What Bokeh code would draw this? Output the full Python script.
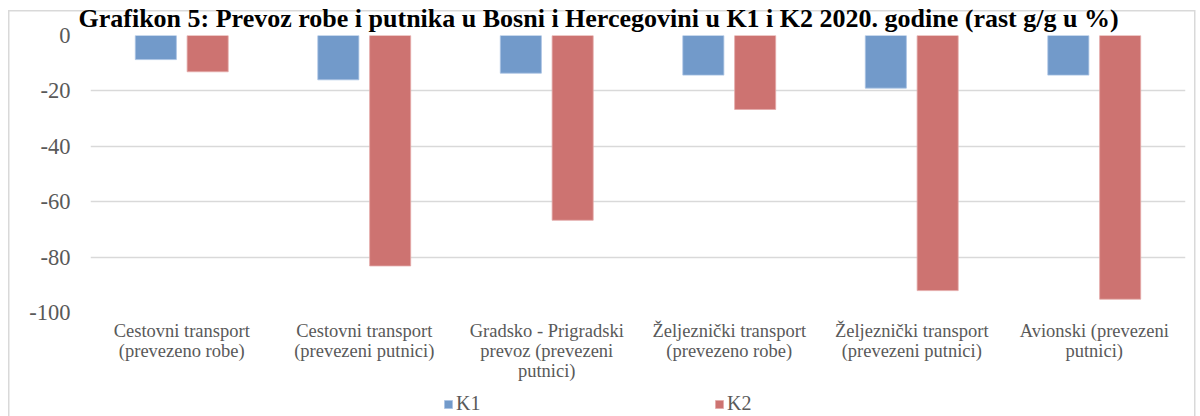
from bokeh.plotting import figure
from bokeh.layouts import column
from bokeh.models import FactorRange, ColumnDataSource, Legend, LegendItem, Title
from bokeh.transform import dodge
from bokeh.embed import file_html
from bokeh.resources import INLINE

categories = [
    "Cestovni transport\n(prevezeno robe)",
    "Cestovni transport\n(prevezeni putnici)",
    "Gradsko - Prigradski\nprevoz (prevezeni\nputnici)",
    "Željeznički transport\n(prevezeno robe)",
    "Željeznički transport\n(prevezeni putnici)",
    "Avionski (prevezeni\nputnici)",
]
k1 = [-8.7, -16.0, -13.6, -14.3, -19.0, -14.3]
k2 = [-13.1, -83.2, -66.7, -26.7, -92.1, -95.2]
series = ["K1", "K2"]
y_ticks = [0, -20, -40, -60, -80, -100]
title_text = "Grafikon 5: Prevoz robe i putnika u Bosni i Hercegovini u K1 i K2 2020. godine (rast g/g u %)"

SERIF = "Liberation Serif"
GRID = "#d9d9d9"
LABEL = "#595959"
BLUE, BLUE_EDGE = "#729ACA", "#a9c3e3"
RED, RED_EDGE = "#CD7371", "#e3a9a8"

src = ColumnDataSource(dict(cat=categories, k1=k1, k2=k2))

p = figure(
    x_range=FactorRange(*categories), y_range=(-100, 0),
    width=1200, height=383, output_backend="svg", toolbar_location=None,
    min_border_left=90, min_border_right=15, min_border_top=35, min_border_bottom=60,
)
p.outline_line_color = None
p.background_fill_color = "white"
p.border_fill_alpha = 0

r1 = p.vbar(x=dodge("cat", -0.142, range=p.x_range), top="k1", bottom=0, width=0.225,
            source=src, fill_color=BLUE, line_color=BLUE_EDGE, line_width=0.8)
r2 = p.vbar(x=dodge("cat", 0.142, range=p.x_range), top="k2", bottom=0, width=0.225,
            source=src, fill_color=RED, line_color=RED_EDGE, line_width=0.8)

p.xgrid.grid_line_color = None
p.ygrid.grid_line_color = GRID
p.ygrid.grid_line_width = 1.5
p.yaxis.ticker = y_ticks
p.yaxis.major_label_overrides = {t: str(t) for t in y_ticks}
p.yaxis.axis_line_color = None
p.yaxis.major_tick_line_color = None
p.yaxis.minor_tick_line_color = None
p.yaxis.major_tick_out = 0
p.yaxis.major_label_standoff = 20
p.yaxis.major_label_text_font = SERIF
p.yaxis.major_label_text_font_size = "22.5px"
p.yaxis.major_label_text_color = LABEL

p.xaxis.axis_line_color = None
p.xaxis.major_tick_line_color = None
p.xaxis.major_tick_out = 0
p.xaxis.major_label_standoff = 8
p.xaxis.major_label_text_font = SERIF
p.xaxis.major_label_text_font_size = "18.5px"
p.xaxis.major_label_text_color = LABEL
p.xaxis.major_label_text_line_height = 1.0

t = Title(text=title_text, align="left", offset=-12, text_font=SERIF, text_font_style="bold",
          text_font_size="26px", text_color="black", standoff=2, vertical_align="top")
p.add_layout(t, "above")

# legend strip below the chart (its bars lie outside its y range, only the legend shows)
lp = figure(width=1200, height=33, x_range=FactorRange(*categories), y_range=(1, 2),
            output_backend="svg", toolbar_location=None, min_border=0,
            x_axis_location=None, y_axis_location=None)
lp.outline_line_color = None
lp.grid.visible = False
lp.background_fill_alpha = 0
lp.border_fill_alpha = 0
d1 = lp.vbar(x=dodge("cat", -0.142, range=lp.x_range), top="k1", bottom=0, width=0.225,
             source=src, fill_color=BLUE, line_color=BLUE_EDGE, line_width=0.8)
d2 = lp.vbar(x=dodge("cat", 0.142, range=lp.x_range), top="k2", bottom=0, width=0.225,
             source=src, fill_color=RED, line_color=RED_EDGE, line_width=0.8)
legend = Legend(
    items=[LegendItem(label=series[0], renderers=[d1]), LegendItem(label=series[1], renderers=[d2])],
    orientation="horizontal", location=(353, 1),
    glyph_width=10, glyph_height=10, label_standoff=3, spacing=153, label_width=105,
    label_text_font=SERIF, label_text_font_size="20px", label_text_color=LABEL,
    border_line_color=None, background_fill_alpha=0, padding=0, margin=0,
)
lp.add_layout(legend)

g = "linear-gradient(#d9d9d9, #d9d9d9)"
layout = column(p, lp, spacing=0, styles={
    "background": f"{g} 8px 10px / 1.5px 100% no-repeat, {g} 8px 10px / 1187px 1.5px no-repeat, "
                  f"{g} 1194px 10px / 1.5px 100% no-repeat, white",
})

open("out.html", "w").write(file_html(layout, INLINE))
